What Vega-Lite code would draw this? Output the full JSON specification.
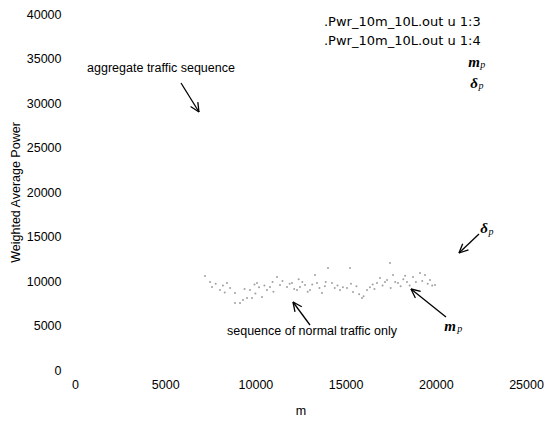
{
  "$schema": "https://vega.github.io/schema/vega-lite/v6.json",
  "width": 451,
  "height": 356,
  "autosize": "none",
  "padding": {"left": 75, "top": 14, "right": 21, "bottom": 51},
  "background": "white",
  "config": {
    "view": {"stroke": null},
    "axis": {"domain": false, "ticks": false, "grid": false, "labelFont": "Liberation Sans", "labelFontSize": 12.5, "labelColor": "black", "titleFont": "Liberation Sans", "titleFontSize": 12.5, "titleFontWeight": "normal", "titleColor": "black", "format": "d"},
    "text": {"font": "Liberation Sans", "fontSize": 12.5, "color": "black"}
  },
  "datasets": {
    "pts": [
      {"m": 7206, "p": 10560}, {"m": 7483, "p": 9890}, {"m": 7594, "p": 9330}, {"m": 7800, "p": 9700}, {"m": 8037, "p": 8990},
      {"m": 8200, "p": 9500}, {"m": 8425, "p": 9780}, {"m": 8600, "p": 9200}, {"m": 8869, "p": 8650}, {"m": 8869, "p": 7530},
      {"m": 9146, "p": 7530}, {"m": 9312, "p": 7870}, {"m": 9400, "p": 9100}, {"m": 9534, "p": 8090}, {"m": 9700, "p": 8990},
      {"m": 9811, "p": 8100}, {"m": 9950, "p": 9600}, {"m": 10088, "p": 9780}, {"m": 10200, "p": 9300}, {"m": 10365, "p": 8200},
      {"m": 10500, "p": 9500}, {"m": 10643, "p": 8990}, {"m": 10809, "p": 9330}, {"m": 10950, "p": 9900}, {"m": 11197, "p": 10450},
      {"m": 11363, "p": 9550}, {"m": 11500, "p": 10000}, {"m": 11751, "p": 9330}, {"m": 11900, "p": 9700}, {"m": 12028, "p": 9780},
      {"m": 12150, "p": 9100}, {"m": 12305, "p": 8990}, {"m": 12472, "p": 9330}, {"m": 12600, "p": 9900}, {"m": 12749, "p": 9550},
      {"m": 12900, "p": 8800}, {"m": 13026, "p": 8990}, {"m": 13150, "p": 9600}, {"m": 13303, "p": 10670}, {"m": 13414, "p": 9780},
      {"m": 13550, "p": 9200}, {"m": 13691, "p": 8650}, {"m": 13850, "p": 9400}, {"m": 14024, "p": 11460}, {"m": 14246, "p": 9780},
      {"m": 14400, "p": 9200}, {"m": 14550, "p": 9500}, {"m": 14689, "p": 8990}, {"m": 14850, "p": 9300}, {"m": 15077, "p": 9210},
      {"m": 15243, "p": 11460}, {"m": 15410, "p": 8760}, {"m": 15600, "p": 9400}, {"m": 15750, "p": 8500}, {"m": 15908, "p": 8090},
      {"m": 16000, "p": 8300}, {"m": 16186, "p": 8990}, {"m": 16350, "p": 9300}, {"m": 16500, "p": 9600}, {"m": 16740, "p": 9780},
      {"m": 16906, "p": 10340}, {"m": 17050, "p": 9500}, {"m": 17183, "p": 9890}, {"m": 17300, "p": 10100}, {"m": 17460, "p": 12020},
      {"m": 17627, "p": 10670}, {"m": 17750, "p": 9900}, {"m": 17904, "p": 9780}, {"m": 18050, "p": 9400}, {"m": 18200, "p": 10200},
      {"m": 18403, "p": 9890}, {"m": 18550, "p": 9500}, {"m": 18735, "p": 10450}, {"m": 18900, "p": 9900}, {"m": 19123, "p": 10900},
      {"m": 19250, "p": 10000}, {"m": 19401, "p": 10670}, {"m": 19550, "p": 9700}, {"m": 19678, "p": 10110}, {"m": 19800, "p": 9500},
      {"m": 19955, "p": 9550}, {"m": 8300, "p": 8700}, {"m": 10000, "p": 8600}, {"m": 11000, "p": 8800}, {"m": 12400, "p": 10200},
      {"m": 13900, "p": 9900}, {"m": 15300, "p": 9700}, {"m": 16600, "p": 9100}, {"m": 17500, "p": 9200}, {"m": 18300, "p": 10600}
    ],
    "arrows": [
      {"x": 5876, "y": 32247, "x2": 6873, "y2": 28989}, {"x": 6873, "y": 28989, "x2": 6807, "y2": 30100}, {"x": 6873, "y": 28989, "x2": 6408, "y2": 29606},
      {"x": 13026, "y": 5056, "x2": 12084, "y2": 7640}, {"x": 12084, "y": 7640, "x2": 12195, "y2": 6539}, {"x": 12084, "y": 7640, "x2": 12572, "y2": 7101},
      {"x": 20565, "y": 5955, "x2": 18624, "y2": 9101}, {"x": 18624, "y": 9101, "x2": 18868, "y2": 8090}, {"x": 18624, "y": 9101, "x2": 19162, "y2": 8832},
      {"x": 22394, "y": 15281, "x2": 21285, "y2": 13146}, {"x": 21285, "y": 13146, "x2": 21812, "y2": 13506}, {"x": 21285, "y": 13146, "x2": 21490, "y2": 14191}
    ],
    "notes": [
      {"x": 4767, "y": 33933, "t": "aggregate traffic sequence"},
      {"x": 13137, "y": 4382, "t": "sequence of normal traffic only"}
    ],
    "legend": [
      {"x": 13802, "y": 39100, "t": ".Pwr_10m_10L.out u 1:3"},
      {"x": 13802, "y": 36960, "t": ".Pwr_10m_10L.out u 1:4"}
    ],
    "sym": [
      {"x": 22117, "y": 34600, "t": "m"},
      {"x": 22117, "y": 32300, "t": "δ"},
      {"x": 20786, "y": 4944, "t": "m"},
      {"x": 22671, "y": 15955, "t": "δ"}
    ],
    "sub": [
      {"x": 22600, "y": 34300, "t": "p"},
      {"x": 22500, "y": 31950, "t": "p"},
      {"x": 21330, "y": 4607, "t": "p"},
      {"x": 23060, "y": 15550, "t": "p"}
    ]
  },
  "layer": [
    {
      "data": {"name": "pts"},
      "mark": {"type": "point", "filled": true, "size": 4, "color": "#808080", "opacity": 0.75},
      "encoding": {
        "x": {"field": "m", "type": "quantitative", "scale": {"domain": [0, 25000], "nice": false}, "axis": {"title": "m", "values": [0, 5000, 10000, 15000, 20000, 25000], "labelFlush": false, "labelPadding": 8, "titlePadding": 14}},
        "y": {"field": "p", "type": "quantitative", "scale": {"domain": [0, 40000], "nice": false}, "axis": {"title": "Weighted Average Power", "values": [0, 5000, 10000, 15000, 20000, 25000, 30000, 35000, 40000], "labelPadding": 14, "titlePadding": 4}}
      }
    },
    {
      "data": {"name": "arrows"},
      "mark": {"type": "rule", "color": "black", "strokeWidth": 1.3},
      "encoding": {
        "x": {"field": "x", "type": "quantitative"},
        "y": {"field": "y", "type": "quantitative"},
        "x2": {"field": "x2"},
        "y2": {"field": "y2"}
      }
    },
    {
      "data": {"name": "notes"},
      "mark": {"type": "text", "align": "center", "baseline": "middle", "color": "black"},
      "encoding": {"x": {"field": "x", "type": "quantitative"}, "y": {"field": "y", "type": "quantitative"}, "text": {"field": "t"}}
    },
    {
      "data": {"name": "legend"},
      "mark": {"type": "text", "align": "left", "baseline": "middle", "color": "black", "font": "DejaVu Sans", "fontSize": 13},
      "encoding": {"x": {"field": "x", "type": "quantitative"}, "y": {"field": "y", "type": "quantitative"}, "text": {"field": "t"}}
    },
    {
      "data": {"name": "sym"},
      "mark": {"type": "text", "align": "center", "baseline": "middle", "color": "black", "font": "Liberation Serif", "fontStyle": "italic", "fontWeight": "bold", "fontSize": 15},
      "encoding": {"x": {"field": "x", "type": "quantitative"}, "y": {"field": "y", "type": "quantitative"}, "text": {"field": "t"}}
    },
    {
      "data": {"name": "sub"},
      "mark": {"type": "text", "align": "center", "baseline": "middle", "color": "black", "font": "Liberation Serif", "fontStyle": "italic", "fontSize": 10},
      "encoding": {"x": {"field": "x", "type": "quantitative"}, "y": {"field": "y", "type": "quantitative"}, "text": {"field": "t"}}
    }
  ]
}
